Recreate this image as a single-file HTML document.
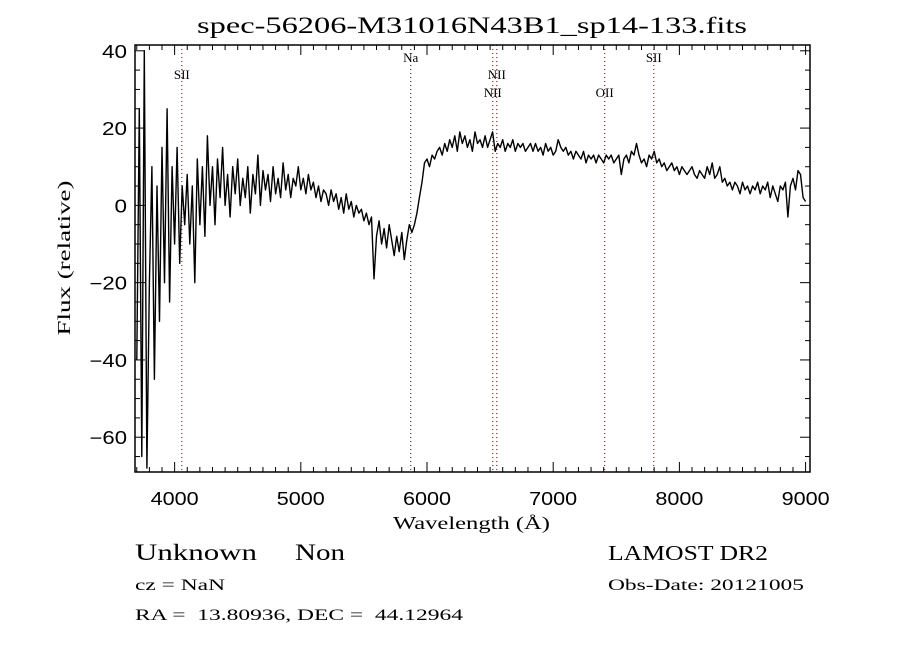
<!DOCTYPE html>
<html><head><meta charset="utf-8"><style>
body{margin:0;background:#fff;}
svg{display:block;}
.serif{font-family:"Liberation Serif",serif;}
.sans{font-family:"Liberation Sans",sans-serif;}
</style></head><body>
<svg id="chart" width="900" height="650" viewBox="0 0 900 650">
<rect width="900" height="650" fill="#fff"/>
<text x="197" y="33" class="serif" font-size="23" textLength="550" lengthAdjust="spacingAndGlyphs">spec-56206-M31016N43B1_sp14-133.fits</text>
<text x="393" y="529" class="serif" font-size="18" textLength="157" lengthAdjust="spacingAndGlyphs">Wavelength (Å)</text>
<text x="70" y="258" text-anchor="middle" class="serif" font-size="18" textLength="155" lengthAdjust="spacingAndGlyphs" transform="rotate(-90 70 258)">Flux (relative)</text>
<text x="135" y="560" class="serif" font-size="23" textLength="122" lengthAdjust="spacingAndGlyphs">Unknown</text>
<text x="295" y="560" class="serif" font-size="23" textLength="50" lengthAdjust="spacingAndGlyphs">Non</text>
<text x="608" y="560" class="serif" font-size="21" textLength="160" lengthAdjust="spacingAndGlyphs">LAMOST DR2</text>
<text x="135" y="590" class="serif" font-size="16" textLength="90" lengthAdjust="spacingAndGlyphs">cz = NaN</text>
<text x="608" y="590" class="serif" font-size="16" textLength="196" lengthAdjust="spacingAndGlyphs">Obs-Date: 20121005</text>
<text x="135" y="620" class="serif" font-size="16" xml:space="preserve" textLength="328" lengthAdjust="spacingAndGlyphs">RA =  13.80936, DEC =  44.12964</text>
<g id="plot"></g>
</svg>
<script>
const waveStart = 3700;
const waveStep = 20;
const flux = [
-40,25,-65,40,-68,-20,10,-45,5,-30,15,-20,25,-25,10,-10,15,-15,5,-5,
8,-10,5,-20,12,-5,10,-8,18,0,10,-5,12,2,15,0,8,-3,10,3,
12,0,7,2,10,-2,8,3,13,0,9,4,8,1,10,3,7,2,11,4,
8,2,7,5,10,4,7,3,8,4,6,2,5,1,4,3,0,4,1,3,
-1,2,-2,3,-1,1,-3,0,-2,-1,-4,-2,-5,-3,-19,-8,-4,-10,-6,-11,
-5,-9,-13,-8,-12,-7,-14,-9,-5,-7,-5,-2,2,6,11,12,10,13,12,14,
15,13,16,14,17,15,18,14,19,16,18,15,17,14,19,16,17,15,18,15,
17,19,14,16,15,17,14,16,15,17,14,16,15,16,14,15,16,14,16,14,
15,13,16,14,15,13,14,17,15,14,15,13,14,12,14,13,12,14,11,13,
12,13,11,13,12,11,13,12,13,11,12,13,8,12,13,11,14,13,16,13,
11,12,10,13,12,14,11,12,10,11,9,10,11,9,10,8,10,9,8,9,
10,8,7,9,8,7,10,8,11,7,8,10,6,7,5,6,4,6,5,3,
6,4,5,3,5,4,6,3,5,4,6,2,5,3,1,5,4,6,-3,5,
7,4,9,8,2,1
];
const lineNames = ["SII","Na","NII","NII","OII","SII"];
const lineWaves = [4057,5871,6553,6521,7408,7797];
const xTicks = [4000,5000,6000,7000,8000,9000];
const yTicks = [40,20,0,-20,-40,-60];

const L=135,R=810,T=45,B=472;
const xMin=3686,xMax=9035,yMin=-69,yMax=41.5;
const sx=v=>L+(v-xMin)/(xMax-xMin)*(R-L);
const sy=v=>B-(v-yMin)/(yMax-yMin)*(B-T);
const NS="http://www.w3.org/2000/svg";
const g=document.getElementById('plot');
function mk(tag,attrs){const e=document.createElementNS(NS,tag);for(const k in attrs)e.setAttribute(k,attrs[k]);g.appendChild(e);return e;}

const labelY=[79,62,79,97,97,62];
lineWaves.forEach((w,i)=>{
  const ln=mk('line',{x1:sx(w),x2:sx(w),y1:T,y2:B,stroke:'#8b2020','stroke-width':1.2,'stroke-dasharray':'1 3'});
  
  
  const t=mk('text',{x:sx(w),y:labelY[i],'text-anchor':'middle','font-size':13,'font-family':'Liberation Serif, serif'});
  t.textContent=lineNames[i];
  
  
});

const pts=flux.map((f,i)=>sx(waveStart+i*waveStep).toFixed(1)+','+sy(Math.max(yMin,Math.min(yMax,f))).toFixed(1)).join(' ');
const pl=mk('polyline',{points:pts,fill:'none',stroke:'#000','stroke-width':1.4,'stroke-linejoin':'round'});



const fr=mk('rect',{x:L,y:T,width:R-L,height:B-T,fill:'none',stroke:'#000','stroke-width':1.5});



for(let v=3700;v<=9000;v+=100){
  const major=v%1000===0, len=major?10:5, x=sx(v);
  const a=mk('line',{x1:x,x2:x,y1:B,y2:B-len,stroke:'#000'});
  
  
  const b=mk('line',{x1:x,x2:x,y1:T,y2:T+len,stroke:'#000'});
  
  
}
xTicks.forEach(v=>{
  const t=mk('text',{x:sx(v)-24,y:B+33,'font-size':18,textLength:48,lengthAdjust:'spacingAndGlyphs','font-family':'Liberation Sans, sans-serif'});
  t.textContent=v;
  
  
});
for(let v=-65;v<=40;v+=5){
  const major=v%20===0, len=major?10:5, y=sy(v);
  const a=mk('line',{x1:L,x2:L+len,y1:y,y2:y,stroke:'#000'});
  
  
  const b=mk('line',{x1:R,x2:R-len,y1:y,y2:y,stroke:'#000'});
  
  
}
yTicks.forEach(v=>{
  const s=v<0?'\u2212'+Math.abs(v):String(v);
  const w=s.length*12.5;
  const t=mk('text',{x:127-w,y:sy(v)+7,'font-size':18,textLength:w,lengthAdjust:'spacingAndGlyphs','font-family':'Liberation Sans, sans-serif'});
  t.textContent=s;
  
  
});
</script>
</body></html>
